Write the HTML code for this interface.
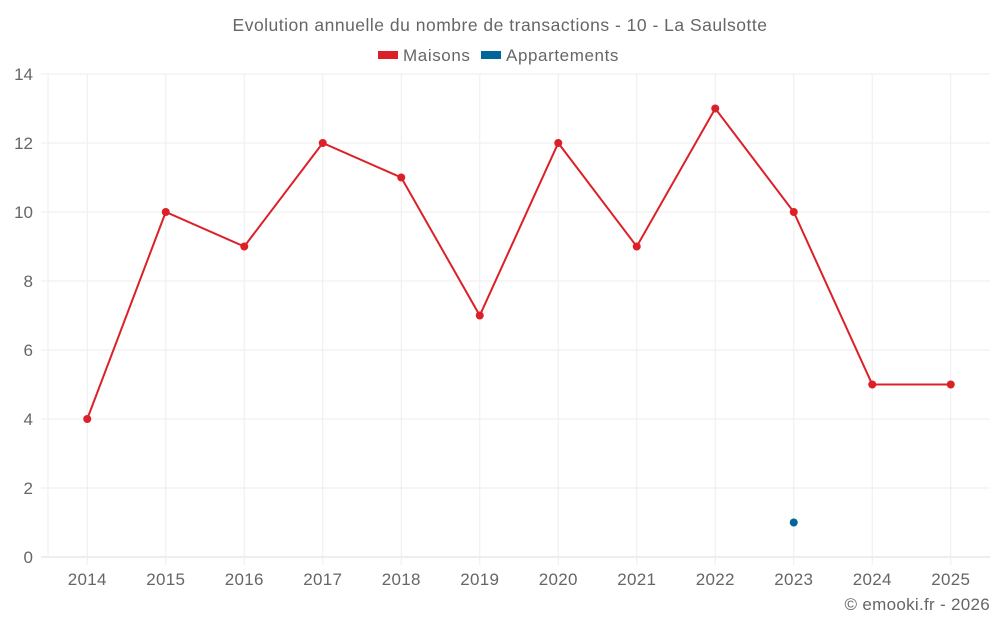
<!DOCTYPE html>
<html><head><meta charset="utf-8"><style>
body{margin:0;background:#fff;font-family:"Liberation Sans",sans-serif}
svg text{font-family:"Liberation Sans",sans-serif;fill:#666}
</style></head><body>
<svg id="c" width="1000" height="625">
<text x="500" y="31" text-anchor="middle" font-size="17.5" letter-spacing="0.5">Evolution annuelle du nombre de transactions - 10 - La Saulsotte</text>
<g>
<rect x="378" y="51" width="20" height="8" fill="#dc2028"/>
<text x="403" y="61" font-size="17" letter-spacing="0.6">Maisons</text>
<rect x="481" y="51" width="20" height="8" fill="#006699"/>
<text x="506" y="61" font-size="17" letter-spacing="0.6">Appartements</text>
</g>
<g id="grid"></g><g id="marks"></g>
<text x="990" y="610" text-anchor="end" font-size="17" letter-spacing="0.3">© emooki.fr - 2026</text>
</svg>
<script>
const years=["2014","2015","2016","2017","2018","2019","2020","2021","2022","2023","2024","2025"];
const maisons=[4,10,9,12,11,7,12,9,13,10,5,5];
const appartements=[null,null,null,null,null,null,null,null,null,1,null,null];
const yTicks=[0,2,4,6,8,10,12,14];
const L=48,R=990,T=74,B=557,YMAX=14;
const NS="http://www.w3.org/2000/svg";
const bw=(R-L)/years.length;
function xs(i){return L+(i+0.5)*bw;}
function ys(v){return B-(v/YMAX)*(B-T);}
function mk(t,a,p){const e=document.createElementNS(NS,t);for(const k in a)e.setAttribute(k,a[k]);p.appendChild(e);return e;}
const g=document.getElementById('grid'),m=document.getElementById('marks');
yTicks.forEach(v=>{
const l=mk('line',{x1:41,x2:R,y1:ys(v),y2:ys(v),stroke:v===0?'#ddd':'#eee','stroke-width':1},g);


const t=mk('text',{x:33,y:ys(v)+6,'text-anchor':'end','font-size':17},g);t.textContent=v;


});
mk('line',{x1:L,x2:L,y1:T,y2:B,stroke:'#eee'},g);
years.forEach((y,i)=>{
const l=mk('line',{x1:xs(i),x2:xs(i),y1:T,y2:B+8,stroke:'#eee'},g);


const t=mk('text',{x:xs(i),y:B+28,'text-anchor':'middle','font-size':17,'letter-spacing':0.3},g);t.textContent=y;


});
function series(vals,color,name){
let d='';vals.forEach((v,i)=>{if(v!=null)d+=(d?'L':'M')+xs(i)+' '+ys(v);});
const p=mk('path',{d:d,fill:'none',stroke:color,'stroke-width':2},m);


vals.forEach((v,i)=>{if(v==null)return;
const c=mk('circle',{cx:xs(i),cy:ys(v),r:4,fill:color},m);

});
}
series(maisons,'#dc2028','maisons');
series(appartements,'#006699','appartements');
</script>
</body></html>
